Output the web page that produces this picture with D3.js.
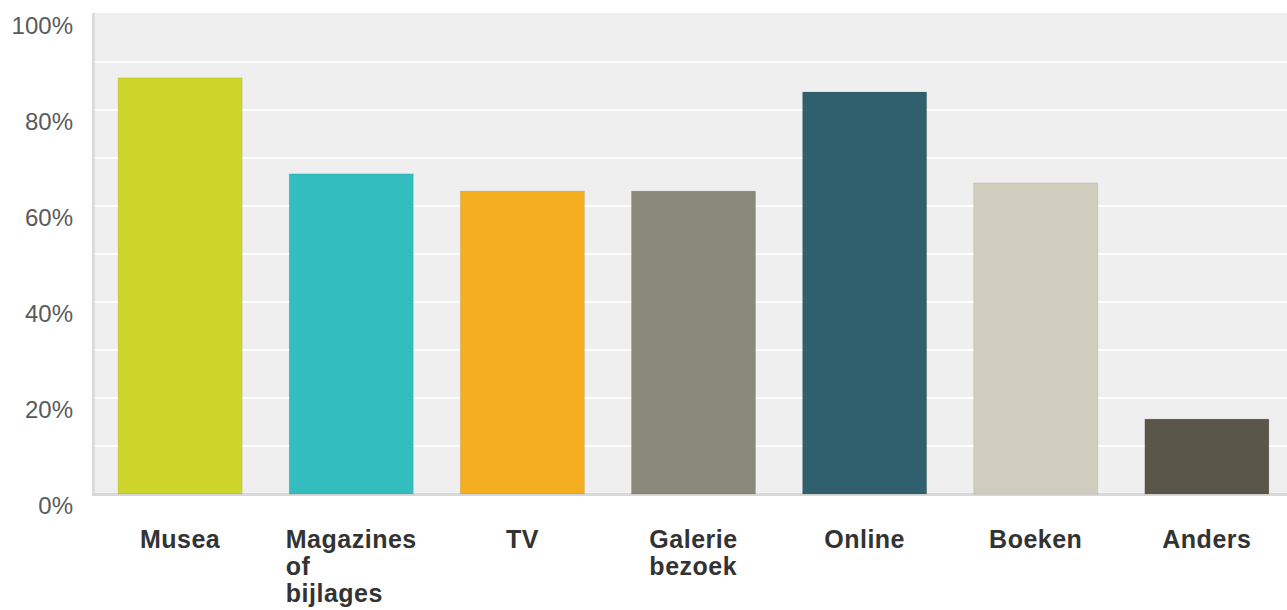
<!DOCTYPE html>
<html>
<head>
<meta charset="utf-8">
<script src="https://cdn.jsdelivr.net/npm/d3@7"></script>
<style>
  body { margin: 0; background: #fff; }
  text { font-family: Arial, "Liberation Sans", sans-serif; }
</style>
</head>
<body>
<div id="chart"></div>
<script>
var categories = ["Musea", "Magazines of bijlages", "TV", "Galerie bezoek", "Online", "Boeken", "Anders"];
var values = [86.7, 66.7, 63.1, 63.1, 83.75, 64.8, 15.6];
var colors = ["#cdd42a", "#33bdbf", "#f5ae1f", "#89897a", "#30606e", "#d0cdbf", "#5a574a"];
var tickValues = [0, 20, 40, 60, 80, 100];

var W = 1287, H = 610;
var margin = { top: 14, right: 0, bottom: 116, left: 95 };

var svg = d3.select("#chart").append("svg")
  .attr("width", W)
  .attr("height", H);

var x = d3.scaleBand()
  .domain(categories)
  .range([margin.left, margin.left + 7 * 171])
  .paddingInner(0.275)
  .paddingOuter(0.135);

var y = d3.scaleLinear()
  .domain([0, 100])
  .range([H - margin.bottom, margin.top]);

// plot background
svg.append("rect")
  .attr("x", margin.left)
  .attr("y", y(100) - 1)
  .attr("width", W - margin.left)
  .attr("height", y(0) - y(100) + 1)
  .attr("fill", "#efefef");

// grid lines
svg.append("g")
  .selectAll("line")
  .data(d3.range(10, 100, 10))
  .enter().append("line")
  .attr("x1", margin.left)
  .attr("x2", W)
  .attr("y1", d => y(d))
  .attr("y2", d => y(d))
  .attr("stroke", "#ffffff")
  .attr("stroke-width", 2);

// axis lines
svg.append("line")
  .attr("x1", margin.left - 1.5).attr("x2", margin.left - 1.5)
  .attr("y1", y(100) - 1).attr("y2", y(0) + 2)
  .attr("stroke", "#dcdcdc").attr("stroke-width", 3);
svg.append("line")
  .attr("x1", margin.left - 3).attr("x2", W)
  .attr("y1", y(0) + 0.5).attr("y2", y(0) + 0.5)
  .attr("stroke", "#d8d8d8").attr("stroke-width", 3);

// bars
svg.append("g")
  .selectAll("rect")
  .data(categories)
  .enter().append("rect")
  .attr("x", d => x(d))
  .attr("y", (d, i) => y(values[i]))
  .attr("width", x.bandwidth())
  .attr("height", (d, i) => y(0) - y(values[i]))
  .attr("fill", (d, i) => colors[i])
  .attr("stroke", "rgba(0,0,0,0.08)")
  .attr("stroke-width", 1);

// y tick labels
svg.append("g")
  .selectAll("text")
  .data(tickValues)
  .enter().append("text")
  .attr("x", 73)
  .attr("y", d => y(d) + 20)
  .attr("text-anchor", "end")
  .attr("fill", "#5a5a5a")
  .style("font-size", "24px")
  .text(d => d + "%");

// x labels, wrapped, left aligned block centred on band
function wrap(text, width) {
  text.each(function () {
    var t = d3.select(this),
      words = t.text().split(/\s+/).reverse(),
      word, line = [],
      tspan = t.text(null).append("tspan").attr("x", 0).attr("dy", 0);
    while (word = words.pop()) {
      line.push(word);
      tspan.text(line.join(" "));
      if (tspan.node().getComputedTextLength() > width && line.length > 1) {
        line.pop();
        tspan.text(line.join(" "));
        line = [word];
        tspan = t.append("tspan").attr("x", 0).attr("dy", 27).text(word);
      }
    }
  });
}

var labels = svg.append("g")
  .selectAll("text")
  .data(categories)
  .enter().append("text")
  .attr("y", 548)
  .attr("fill", "#333")
  .style("font-size", "25px")
  .style("font-weight", "bold")
  .style("letter-spacing", "0.5px")
  .text(d => d)
  .call(wrap, 110);

labels.each(function (d) {
  var t = d3.select(this);
  var maxW = 0;
  t.selectAll("tspan").each(function () {
    maxW = Math.max(maxW, this.getComputedTextLength());
  });
  var left = x(d) + x.bandwidth() / 2 - maxW / 2;
  t.selectAll("tspan").attr("x", left);
});
</script>
</body>
</html>
